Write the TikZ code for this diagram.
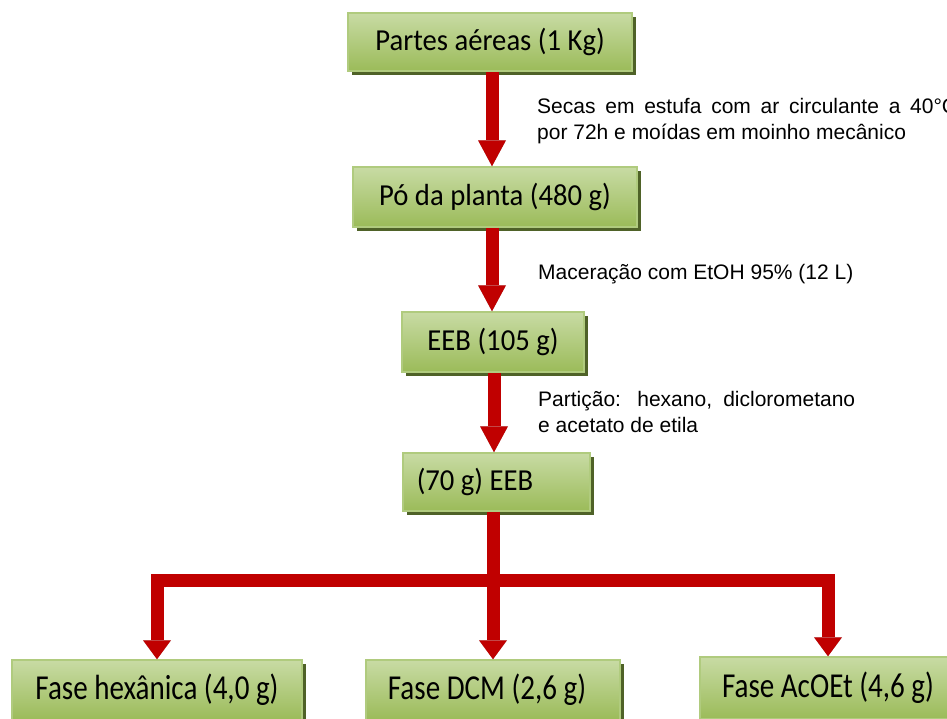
\documentclass[tikz,border=0pt]{standalone}
\usepackage{fontspec}
\setmainfont{Liberation Sans}
\newfontfamily\boxfont[FakeStretch=0.94]{Carlito}
\newfontfamily\boxfontc[FakeStretch=0.83]{Carlito}
\newfontfamily\lblfont{Liberation Sans}
\usetikzlibrary{arrows.meta,shadows}
\definecolor{arrred}{HTML}{C00000}
\definecolor{boxtop}{HTML}{C8DBA4}
\definecolor{boxbot}{HTML}{9BBB59}
\definecolor{boxedge}{HTML}{B0CB7E}
\definecolor{boxshadow}{HTML}{4F6228}
\begin{document}
\begin{tikzpicture}[x=1pt,y=-1pt,
  greenbox/.style={draw=boxedge, line width=1.5pt, top color=boxtop, bottom color=boxbot,
    inner sep=0pt, text=black,
    drop shadow={shadow xshift=4pt, shadow yshift=-4pt, fill=boxshadow, opacity=1}},
  topbox/.style={greenbox, font=\boxfont\fontsize{30.5}{34}\selectfont},
  botbox/.style={greenbox, font=\boxfontc\fontsize{35}{40}\selectfont},
  lbl/.style={font=\lblfont\fontsize{21}{25}\selectfont, inner sep=0pt, anchor=base west},
  arr/.style={draw=arrred, line width=13pt, line join=miter,
    -{Triangle[width=28pt,length=26pt,line width=0pt]}},
  arrb/.style={draw=arrred, line width=13pt, line join=miter,
    -{Triangle[width=28pt,length=19pt,line width=0pt]}},
  arrbb/.style={draw=arrred, line width=13pt, line join=miter,
    {Triangle[width=28pt,length=19pt,line width=0pt]}-{Triangle[width=28pt,length=19pt,line width=0pt]}},
  shd/.style={draw=gray!60, fill=none, xshift=1.5pt, yshift=-1.5pt}
]
\useasboundingbox (0,0) rectangle (947,718);
\clip (0,0) rectangle (947,718);

% boxes
\node[topbox, minimum width=284pt, minimum height=58pt] (b1) at (490,42) {Partes aéreas (1 Kg)};
\node[topbox, minimum width=284pt, minimum height=60pt] (b2) at (495,197) {Pó da planta (480 g)};
\node[topbox, minimum width=182pt, minimum height=60pt] (b3) at (493,342) {EEB (105 g)};
\node[topbox, minimum width=187pt, minimum height=58pt] (b4) at (496.5,482) {(70 g) EEB\hspace*{43pt}};
\node[botbox, minimum width=290pt, minimum height=60pt] (b5) at (157,690) {Fase hexânica (4,0 g)};
\node[botbox, minimum width=254pt, minimum height=60pt] (b6) at (493,690) {Fase DCM (2,6 g)\hspace*{12pt}};
\node[botbox, minimum width=256pt, minimum height=62pt] (b7) at (828,688) {Fase AcOEt (4,6 g)};

% helper coordinates
\coordinate (c1) at (492,0);
\coordinate (c3) at (494,0);
\coordinate (bar) at (494,580);

% arrows (shadows first)
\draw[arr, shd] (b1.south -| c1) -- (b2.north -| c1);
\draw[arr, shd] (b2.south -| c1) -- (b3.north -| c1);
\draw[arr, shd] (b3.south -| c3) -- (b4.north -| c3);
\draw[arrb, shd] (b4.south -| b6.north) -- (b6.north);
\draw[arrbb, shd] (b5.north) |- (bar) -| (b7.north);

\draw[arr] (b1.south -| c1) -- (b2.north -| c1);
\draw[arr] (b2.south -| c1) -- (b3.north -| c1);
\draw[arr] (b3.south -| c3) -- (b4.north -| c3);
\draw[arrb] (b4.south -| b6.north) -- (b6.north);
\draw[arrbb] (b5.north) |- (bar) -| (b7.north);

% labels
\node[lbl] (t1a) at (537,113) {\makebox[420pt][s]{Secas em estufa com ar circulante a 40°C}};
\node[lbl] (t1b) at (537,139) {por 72h e moídas em moinho mecânico};
\node[lbl] (t2) at (538,279) {Maceração com EtOH 95\% (12 L)};
\node[lbl] (t3a) at (538,406) {\makebox[317pt][s]{Partição: hexano, diclorometano}};
\node[lbl] (t3b) at (538,432) {e acetato de etila};
\end{tikzpicture}
\end{document}
